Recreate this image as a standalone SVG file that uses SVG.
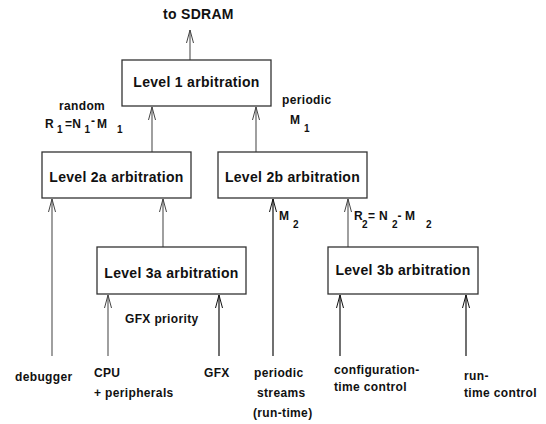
<svg xmlns="http://www.w3.org/2000/svg" width="546" height="424" viewBox="0 0 546 424">
<style>
text{font-family:"Liberation Sans",Arial,sans-serif;font-weight:bold;fill:#111}
.box{fill:#fff;stroke:#333;stroke-width:1.3}
.bt{font-size:14px;letter-spacing:0.3px;text-anchor:middle}
.lb{font-size:12px;letter-spacing:0.35px}
.sb{font-size:10px}
.g{stroke:#777;stroke-width:1.4;fill:none;marker-end:url(#ag)}
.k{stroke:#111;stroke-width:1.2;fill:none;marker-end:url(#ak)}
</style>
<defs>
<marker id="ag" viewBox="-15 -5 16 10" refX="0" refY="0" markerWidth="16" markerHeight="10" markerUnits="userSpaceOnUse" orient="auto">
<path d="M-13,-3.5 L0,0 L-13,3.5" fill="none" stroke="#444" stroke-width="1"/>
</marker>
<marker id="ak" viewBox="-15 -5 16 10" refX="0" refY="0" markerWidth="16" markerHeight="10" markerUnits="userSpaceOnUse" orient="auto">
<path d="M-13,-3.5 L0,0 L-13,3.5" fill="none" stroke="#111" stroke-width="1"/>
</marker>
</defs>
<g id="connectors">
<line class="g" x1="190" y1="60" x2="190" y2="30"/>
<line class="g" x1="152" y1="152" x2="152" y2="107"/>
<line class="g" x1="256" y1="152" x2="256" y2="107"/>
<line class="g" x1="163" y1="247" x2="163" y2="199"/>
<line class="g" x1="52" y1="356" x2="52" y2="199"/>
<line class="g" x1="108" y1="356" x2="108" y2="295"/>
<line class="g" x1="348" y1="247" x2="348" y2="199"/>
<line class="k" x1="219" y1="356" x2="219" y2="295"/>
<line class="k" x1="273" y1="356" x2="273" y2="199"/>
<line class="k" x1="340" y1="356" x2="340" y2="295"/>
<line class="k" x1="466" y1="356" x2="466" y2="295"/>
</g>
<g id="level1">
<rect class="box" x="122" y="60" width="149" height="46"/>
<text class="bt" x="196.5" y="87">Level 1 arbitration</text>
</g>
<g id="level2a">
<rect class="box" x="42" y="152" width="149" height="46"/>
<text class="bt" x="116.5" y="182">Level 2a arbitration</text>
</g>
<g id="level2b">
<rect class="box" x="218" y="152" width="149" height="46"/>
<text class="bt" x="292.5" y="182">Level 2b arbitration</text>
</g>
<g id="level3a">
<rect class="box" x="97" y="247" width="149" height="47"/>
<text class="bt" x="171.5" y="278">Level 3a arbitration</text>
</g>
<g id="level3b">
<rect class="box" x="328" y="247" width="150" height="47"/>
<text class="bt" x="403" y="275">Level 3b arbitration</text>
</g>
<g id="labels">
<text class="lb" x="163" y="19" style="font-size:14px;letter-spacing:0.3px">to SDRAM</text>
<text class="lb" x="59" y="110">random</text>
<text class="lb" x="45" y="128">R</text>
<text class="sb" x="57" y="133">1</text>
<text class="lb" x="65" y="128">=N</text>
<text class="sb" x="84.5" y="133">1</text>
<text class="lb" x="91" y="125">-</text>
<text class="lb" x="97" y="128">M</text>
<text class="sb" x="117" y="133">1</text>
<text class="lb" x="282" y="104">periodic</text>
<text class="lb" x="290" y="124">M</text>
<text class="sb" x="304" y="132">1</text>
<text class="lb" x="279" y="220">M</text>
<text class="sb" x="293" y="228">2</text>
<text class="lb" x="354" y="220">R</text>
<text class="sb" x="362" y="228">2</text>
<text class="lb" x="368" y="220">= N</text>
<text class="sb" x="392" y="228">2</text>
<text class="lb" x="397.5" y="220">-</text>
<text class="lb" x="405" y="220">M</text>
<text class="sb" x="426" y="228">2</text>
<text class="lb" x="125" y="323">GFX priority</text>
<text class="lb" x="15" y="381">debugger</text>
<text class="lb" x="94" y="377">CPU</text>
<text class="lb" x="94" y="397">+ peripherals</text>
<text class="lb" x="204" y="377">GFX</text>
<text class="lb" x="254" y="377">periodic</text>
<text class="lb" x="257" y="397">streams</text>
<text class="lb" x="253" y="417">(run-time)</text>
<text class="lb" x="334" y="374">configuration-</text>
<text class="lb" x="334" y="391">time control</text>
<text class="lb" x="464" y="380">run-</text>
<text class="lb" x="464" y="397">time control</text>
</g>
</svg>
